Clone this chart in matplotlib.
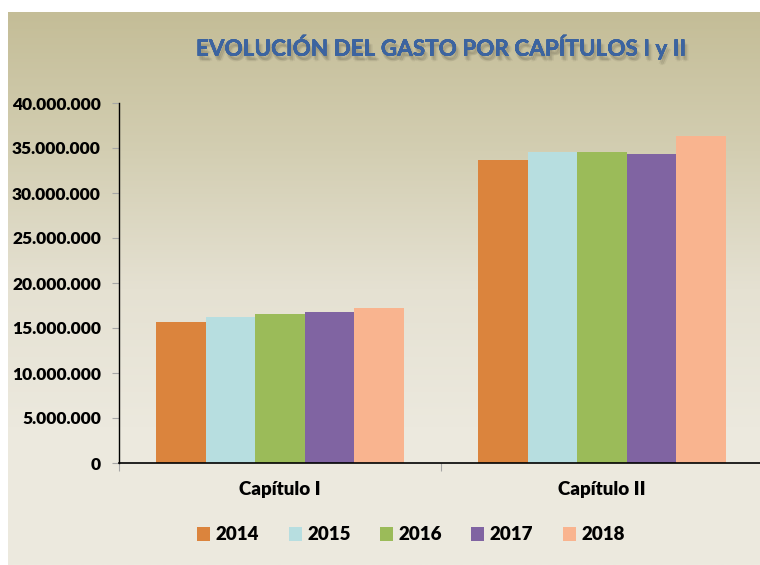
import numpy as np
import matplotlib
matplotlib.use("Agg")
import matplotlib.pyplot as plt
from matplotlib import patheffects as pe
from matplotlib.ticker import FuncFormatter, MultipleLocator
from matplotlib.colors import LinearSegmentedColormap

# --- data -------------------------------------------------------------
categories = ["Capítulo I", "Capítulo II"]
years = ["2014", "2015", "2016", "2017", "2018"]
gasto_2014 = [15_670_000, 33_670_000]
gasto_2015 = [16_190_000, 34_560_000]
gasto_2016 = [16_520_000, 34_520_000]
gasto_2017 = [16_740_000, 34_330_000]
gasto_2018 = [17_220_000, 36_330_000]
series = [gasto_2014, gasto_2015, gasto_2016, gasto_2017, gasto_2018]
colors = ["#DB843D", "#B7DEE0", "#9BBB59", "#8064A2", "#F9B48F"]
title = "EVOLUCIÓN DEL GASTO POR CAPÍTULOS I y II"

W, H = 760, 565
fig = plt.figure(figsize=(W / 100, H / 100), dpi=100, facecolor="white")

# gradient backdrop
bg = fig.add_axes([8 / W, 0, 1 - 8 / W, 1 - 12 / H])
bg.set_axis_off()
cmap = LinearSegmentedColormap.from_list(
    "bg", ["#C4BD97", "#D3CEB2", "#E5E1D2", "#ECE9DE", "#EDEADF"])
grad = np.linspace(0, 1, 256).reshape(-1, 1)
bg.imshow(grad, aspect="auto", cmap=cmap, extent=[0, 1, 0, 1], origin="upper")
bg.set_xlim(0, 1)
bg.set_ylim(0, 1)

font = "Lato"

ax = fig.add_axes([119 / W, 1 - 463 / H, 644 / W, 360 / H])
ax.patch.set_alpha(0)
x = np.arange(len(categories)) + 0.5
bw = 0.154
n = len(series)
for i, (vals, col, yr) in enumerate(zip(series, colors, years)):
    ax.bar(x + (i - (n - 1) / 2) * bw, vals, width=bw, color=col,
           label=yr, zorder=2)

ax.set_xlim(0, 2)
ax.set_ylim(0, 40_000_000)
ax.yaxis.set_major_locator(MultipleLocator(5_000_000))
ax.yaxis.set_major_formatter(
    FuncFormatter(lambda v, p: f"{int(v):,}".replace(",", ".")))
ax.set_xticks([0, 1, 2])
ax.set_xticklabels([])
ax.set_xticks(x, minor=True)
ax.set_xticklabels(categories, minor=True)
ax.tick_params(axis="x", which="minor", length=0, pad=13)
ax.tick_params(axis="x", which="major", length=6, color="#A6A6A6",
               direction="out")
ax.tick_params(axis="y", length=5, color="#A6A6A6", direction="out", pad=8)
for lab in ax.get_yticklabels():
    lab.set_fontfamily(font)
    lab.set_fontweight("heavy")
    lab.set_fontsize(12.5)
    lab.set_color("black")
for lab in ax.get_xticklabels(minor=True):
    lab.set_fontfamily(font)
    lab.set_fontweight("heavy")
    lab.set_fontsize(13.5)
    lab.set_color("black")

for side in ("top", "right"):
    ax.spines[side].set_visible(False)
ax.spines["left"].set_color("black")
ax.spines["bottom"].set_color("black")
ax.spines["left"].set_linewidth(1.0)
ax.spines["bottom"].set_linewidth(1.2)

leg = fig.legend(loc="center", bbox_to_anchor=(411 / W, 1 - 535 / H),
                 ncol=5, frameon=False, handlelength=0.7, handleheight=0.7,
                 handletextpad=0.3, columnspacing=1.55,
                 prop={"family": font, "weight": "heavy", "size": 13.5})

shadow = [pe.withSimplePatchShadow(offset=(o[0], o[1]),
                                   shadow_rgbFace="#6E6A55", alpha=0.12)
          for o in [(1, -2), (2, -3), (1.5, -4), (3, -3.5), (0.5, -3)]]
fig.text(441 / W, 1 - 47 / H, title, ha="center", va="center",
         fontfamily=font, fontweight="bold", fontsize=16.2,
         color="#3C64A0", path_effects=shadow + [pe.Normal()])

fig.savefig("out.png", dpi=100, facecolor="white")
